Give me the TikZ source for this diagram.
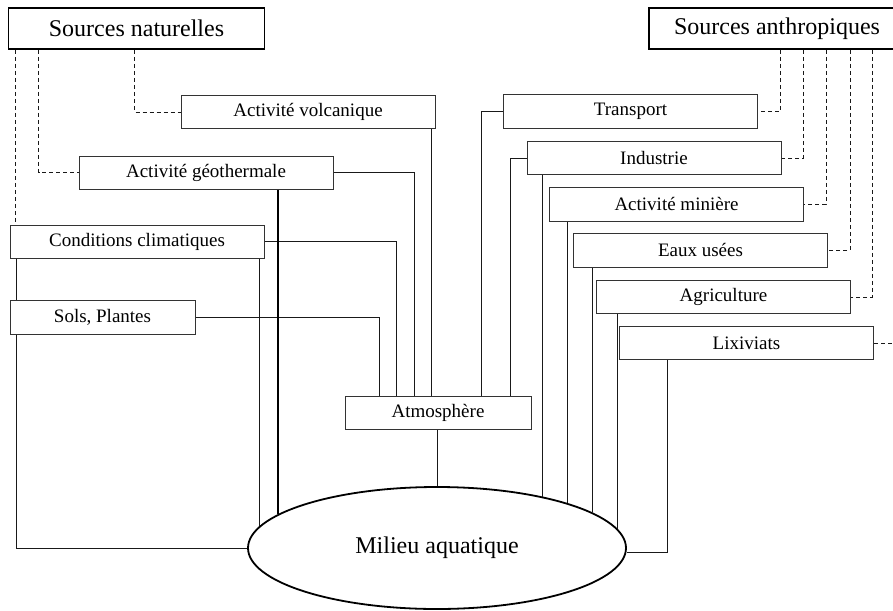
\documentclass[tikz,border=0pt]{standalone}
\usepackage{fontspec}
\setmainfont{Liberation Serif}
\usetikzlibrary{shapes.geometric}
\begin{document}
\begin{tikzpicture}[x=0.5pt,y=-0.5pt,
  box/.style={draw=black!80, line width=0.5pt, inner sep=0pt, minimum width=127pt, minimum height=16.5pt, font=\fontsize{9.5}{11}\selectfont},
  srcbox/.style={draw=black, line width=0.9pt, inner sep=0pt, minimum width=128pt, minimum height=20.5pt, font=\fontsize{12}{14}\selectfont},
  link/.style={draw=black!90, line width=0.45pt},
  dlink/.style={draw=black!90, line width=0.45pt, dash pattern=on 2pt off 1.5pt},
  heavy/.style={draw=black, line width=1pt},
  pond/.style={draw=black, line width=0.9pt, ellipse, inner sep=0pt, minimum width=189pt, minimum height=61pt, font=\fontsize{12}{14}\selectfont}
]
\useasboundingbox (0,0) rectangle (893,610);
% source boxes
\node[srcbox] (SN) at (136.5,28.5) {Sources naturelles};
\node[srcbox] (SA) at (777,28.5) {Sources anthropiques};
% natural sources
\node[box] (AV) at (308,112) {Activité volcanique};
\node[box] (AG) at (206,172.5) {Activité géothermale};
\node[box] (CC) at (137,241.5) {Conditions climatiques};
\node[box, minimum width=92.5pt, minimum height=17pt] (SP) at (102.5,317) {Sols, Plantes};
% atmosphere
\node[box, minimum width=93pt] (AT) at (438,412.5) {Atmosphère};
% anthropic sources
\node[box] (TR) at (630.5,111.5) {Transport};
\node[box] (IN) at (654,158) {Industrie};
\node[box, minimum height=17pt] (AM) at (676.5,204) {Activité minière};
\node[box, minimum height=17pt] (EU) at (700.5,250) {Eaux usées};
\node[box] (AGR) at (723.5,297) {Agriculture};
\node[box] (LX) at (746.5,343) {Lixiviats};
% aquatic medium
\node[pond] (ME) at (437,548) {Milieu aquatique};
\coordinate (LXend) at (893,343);

% dashed links from natural sources
\coordinate (n1) at ([xshift=4pt]SN.south west);
\coordinate (n2) at ([xshift=15.5pt]SN.south west);
\coordinate (n3) at ([xshift=63.5pt]SN.south west);
\draw[dlink] (n1) -- (n1 |- CC.north);
\draw[dlink] (n2) |- (AG.west);
\draw[dlink] (n3) |- (AV.west);
% dashed links from anthropic sources
\coordinate (a1) at ([xshift=66pt]SA.south west);
\coordinate (a2) at ([xshift=77.5pt]SA.south west);
\coordinate (a3) at ([xshift=89pt]SA.south west);
\coordinate (a4) at ([xshift=101pt]SA.south west);
\coordinate (a5) at ([xshift=112pt]SA.south west);
\draw[dlink] (a1) |- (TR.east);
\draw[dlink] (a2) |- (IN.east);
\draw[dlink] (a3) |- (AM.east);
\draw[dlink] (a4) |- (EU.east);
\draw[dlink] (a5) |- (AGR.east);
\draw[dlink] (LX.east) -- (LXend);

% links into the atmosphere
\draw[link] (SP.east) -| ([xshift=17.5pt]AT.north west);
\draw[link] (CC.east) -| ([xshift=26pt]AT.north west);
\draw[link] (AG.east) -| ([xshift=35pt]AT.north west);
\coordinate (av) at ([xshift=-2pt]AV.south east);
\draw[link] (av) -- (av |- AT.north);
\draw[link] (TR.west) -| ([xshift=-25pt]AT.north east);
\draw[link] (IN.west) -| ([xshift=-10.5pt]AT.north east);
\draw[link] (ME.north) -- (ME.north |- AT.south);

% direct links to the aquatic medium
\draw[link] ([xshift=3.5pt]CC.south west) -- ([xshift=3.5pt]SP.north west);
\draw[link] ([xshift=3.5pt]SP.south west) |- (ME.west);
\draw[link] (ME.173.75) -- (ME.173.75 |- CC.south);
\draw[heavy] (ME.168) -- (ME.168 |- AG.south);
\draw[link] (ME.26.08) -- (ME.26.08 |- IN.south);
\draw[link] (ME.19.85) -- (ME.19.85 |- AM.south);
\draw[link] (ME.13.17) -- (ME.13.17 |- EU.south);
\draw[link] (ME.6.9) -- (ME.6.9 |- AGR.south);
\draw[link] ([xshift=24pt]LX.south west) |- ([yshift=-2pt]ME.east);
\end{tikzpicture}
\end{document}
